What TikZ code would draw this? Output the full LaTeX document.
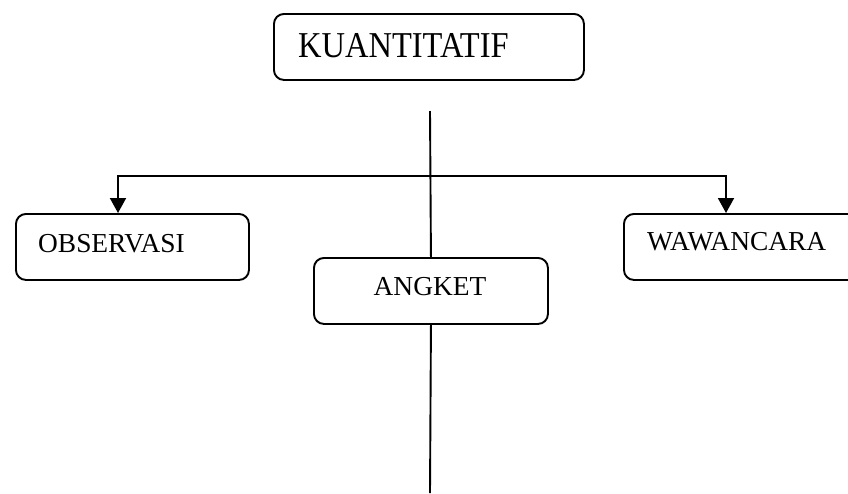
\documentclass[tikz,border=0pt]{standalone}
\usepackage{fontspec}
\setmainfont{Liberation Serif}
\usetikzlibrary{arrows.meta}
\begin{document}
\begin{tikzpicture}[x=1pt,y=-1pt,
  box/.style={draw, line width=1.9pt, rounded corners=10pt, inner sep=0pt, anchor=north west, minimum height=66pt},
  lbl/.style={anchor=base west, inner sep=0pt, font=\fontsize{27.4}{31}\selectfont},
  conn/.style={line width=1.9pt},
  arr/.style={conn, -{Triangle[width=16pt,length=15pt]}}]
\clip (0,0) rectangle (848,493);
% boxes
\node[box, minimum width=310pt] (kuan) at (273,13) {};
\node[box, minimum width=233pt] (obs) at (15,213) {};
\node[box, minimum width=234pt] (ang) at (313,257) {};
\node[box, minimum width=257pt] (waw) at (623,213) {};
% labels
\node[lbl, font=\fontsize{32.5}{37}\selectfont] (kuanT) at (298,57) {\scalebox{1}[1.12]{KUANTITATIF}};
\node[lbl] (obsT) at (38,252) {OBSERVASI};
\node[lbl, anchor=base] (angT) at (430,295) {ANGKET};
\node[lbl] (wawT) at (647,250) {WAWANCARA};
% coordinates
\coordinate (top) at (430,111);
\coordinate (bot) at (430,493);
\coordinate (hmid) at (430,176);
\coordinate (obsin) at (118,213);
\coordinate (wawin) at (726,213);
% connectors
\draw[conn] (top) -- (ang.north);
\draw[conn] (ang.south) -- (bot);
\draw[arr] (hmid) -| (obsin);
\draw[arr] (hmid) -| (wawin);
\end{tikzpicture}
\end{document}
